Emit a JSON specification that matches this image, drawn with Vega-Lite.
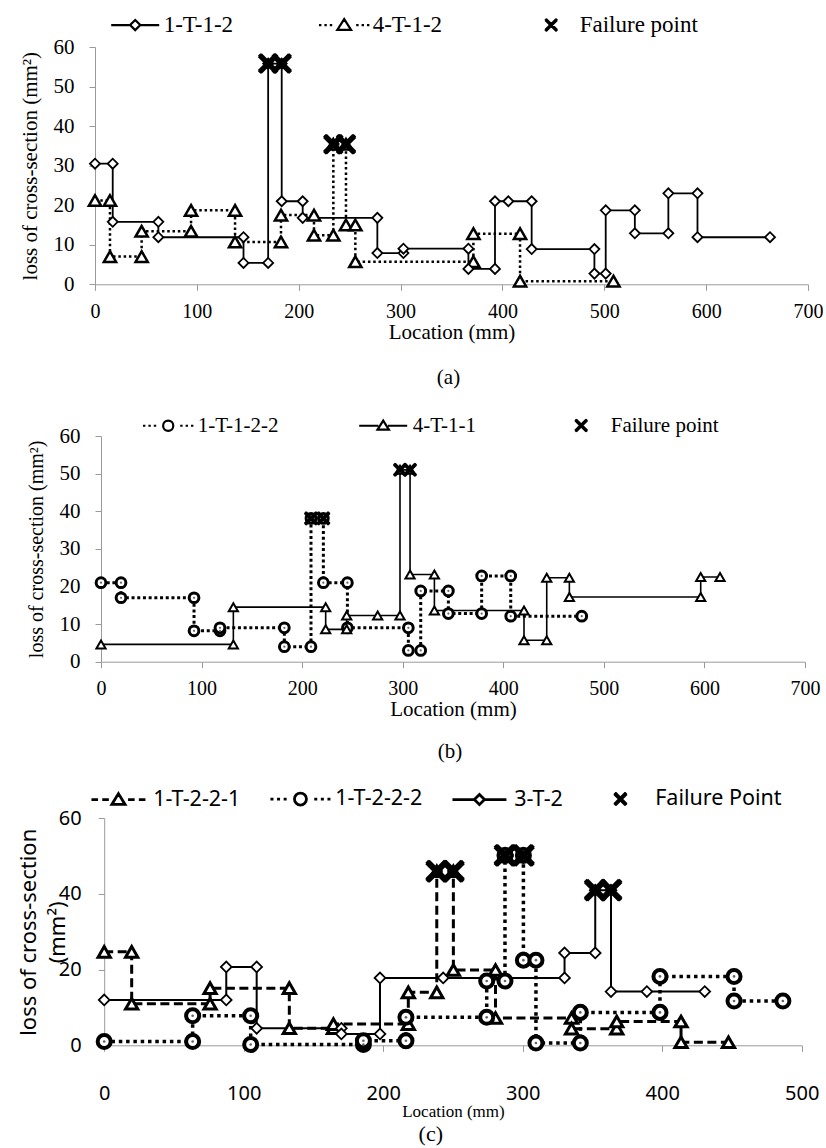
{
  "$schema": "https://vega.github.io/schema/vega-lite/v6.json",
  "usermeta": {"embedOptions": {"actions": false}},
  "padding": {"left": 17, "top": 13, "right": 0, "bottom": 0},
  "bounds": "flush",
  "spacing": 151,
  "config": {
    "view": {"stroke": null},
    "axis": {"grid": false, "domainColor": "#9a9a9a", "tickColor": "#9a9a9a", "labelColor": "black", "titleColor": "black", "titleFontWeight": "normal", "domainWidth": 1, "tickWidth": 1, "labelOverlap": false, "labelFlush": false},
    "legend": {"padding": 0, "titlePadding": 0},
    "title": {"color": "black", "fontWeight": "normal"}
  },
  "resolve": {"scale": {"x": "independent", "y": "independent", "shape": "independent"}, "legend": {"shape": "independent"}},
  "datasets": {
    "a": [
      {"s":"1-T-1-2","i":0,"x":0,"y":30.5},{"s":"1-T-1-2","i":1,"x":17.4,"y":30.5},{"s":"1-T-1-2","i":2,"x":17.4,"y":15.8},{"s":"1-T-1-2","i":3,"x":62.2,"y":15.8},{"s":"1-T-1-2","i":4,"x":62.2,"y":11.9},{"s":"1-T-1-2","i":5,"x":145.8,"y":11.9},{"s":"1-T-1-2","i":6,"x":145.8,"y":5.4},{"s":"1-T-1-2","i":7,"x":170,"y":5.4},{"s":"1-T-1-2","i":8,"x":170,"y":55.8},{"s":"1-T-1-2","i":9,"x":183.3,"y":55.8},{"s":"1-T-1-2","i":10,"x":183.3,"y":21},{"s":"1-T-1-2","i":11,"x":203.9,"y":21},{"s":"1-T-1-2","i":12,"x":203.9,"y":16.8},{"s":"1-T-1-2","i":13,"x":277.2,"y":16.8},{"s":"1-T-1-2","i":14,"x":277.2,"y":7.9},{"s":"1-T-1-2","i":15,"x":302.8,"y":7.9},{"s":"1-T-1-2","i":16,"x":302.8,"y":9},{"s":"1-T-1-2","i":17,"x":366.6,"y":9},{"s":"1-T-1-2","i":18,"x":366.6,"y":3.9},{"s":"1-T-1-2","i":19,"x":392.7,"y":3.9},{"s":"1-T-1-2","i":20,"x":392.7,"y":21},{"s":"1-T-1-2","i":21,"x":405.8,"y":21},{"s":"1-T-1-2","i":22,"x":428.7,"y":21},{"s":"1-T-1-2","i":23,"x":428.7,"y":8.9},{"s":"1-T-1-2","i":24,"x":490.3,"y":8.9},{"s":"1-T-1-2","i":25,"x":490.3,"y":2.7},{"s":"1-T-1-2","i":26,"x":501.4,"y":2.7},{"s":"1-T-1-2","i":27,"x":501.4,"y":18.7},{"s":"1-T-1-2","i":28,"x":530,"y":18.7},{"s":"1-T-1-2","i":29,"x":530,"y":12.9},{"s":"1-T-1-2","i":30,"x":562.9,"y":12.9},{"s":"1-T-1-2","i":31,"x":562.9,"y":23},{"s":"1-T-1-2","i":32,"x":591.5,"y":23},{"s":"1-T-1-2","i":33,"x":591.5,"y":11.9},{"s":"1-T-1-2","i":34,"x":662.7,"y":11.9},
      {"s":"4-T-1-2","i":0,"x":0,"y":21.2},{"s":"4-T-1-2","i":1,"x":14.7,"y":21.2},{"s":"4-T-1-2","i":2,"x":14.7,"y":7},{"s":"4-T-1-2","i":3,"x":45.8,"y":7},{"s":"4-T-1-2","i":4,"x":45.8,"y":13.4},{"s":"4-T-1-2","i":5,"x":94.3,"y":13.4},{"s":"4-T-1-2","i":6,"x":94.3,"y":18.7},{"s":"4-T-1-2","i":7,"x":137.5,"y":18.7},{"s":"4-T-1-2","i":8,"x":137.5,"y":10.7},{"s":"4-T-1-2","i":9,"x":182.6,"y":10.7},{"s":"4-T-1-2","i":10,"x":182.6,"y":17.5},{"s":"4-T-1-2","i":11,"x":215,"y":17.5},{"s":"4-T-1-2","i":12,"x":215,"y":12.4},{"s":"4-T-1-2","i":13,"x":234,"y":12.4},{"s":"4-T-1-2","i":14,"x":234,"y":35.4},{"s":"4-T-1-2","i":15,"x":246.4,"y":35.4},{"s":"4-T-1-2","i":16,"x":246.4,"y":15},{"s":"4-T-1-2","i":17,"x":255.6,"y":15},{"s":"4-T-1-2","i":18,"x":255.6,"y":5.7},{"s":"4-T-1-2","i":19,"x":371.5,"y":5.7},{"s":"4-T-1-2","i":20,"x":371.5,"y":12.8},{"s":"4-T-1-2","i":21,"x":417.3,"y":12.8},{"s":"4-T-1-2","i":22,"x":417.3,"y":0.8},{"s":"4-T-1-2","i":23,"x":509,"y":0.8},
      {"s":"Failure point","i":0,"x":170,"y":55.8},{"s":"Failure point","i":1,"x":183.3,"y":55.8},{"s":"Failure point","i":2,"x":234,"y":35.4},{"s":"Failure point","i":3,"x":246.4,"y":35.4}
    ],
    "b": [
      {"s":"1-T-1-2-2","i":0,"x":0,"y":21},{"s":"1-T-1-2-2","i":1,"x":19.9,"y":21},{"s":"1-T-1-2-2","i":2,"x":19.9,"y":17},{"s":"1-T-1-2-2","i":3,"x":92.5,"y":17},{"s":"1-T-1-2-2","i":4,"x":92.5,"y":8.2},{"s":"1-T-1-2-2","i":5,"x":118.3,"y":8.2},{"s":"1-T-1-2-2","i":6,"x":118.3,"y":9},{"s":"1-T-1-2-2","i":7,"x":182.3,"y":9},{"s":"1-T-1-2-2","i":8,"x":182.3,"y":4},{"s":"1-T-1-2-2","i":9,"x":208.8,"y":4},{"s":"1-T-1-2-2","i":10,"x":208.8,"y":38.1},{"s":"1-T-1-2-2","i":11,"x":221.1,"y":38.1},{"s":"1-T-1-2-2","i":12,"x":221.1,"y":21},{"s":"1-T-1-2-2","i":13,"x":245,"y":21},{"s":"1-T-1-2-2","i":14,"x":245,"y":9},{"s":"1-T-1-2-2","i":15,"x":305.6,"y":9},{"s":"1-T-1-2-2","i":16,"x":305.6,"y":3},{"s":"1-T-1-2-2","i":17,"x":317.9,"y":3},{"s":"1-T-1-2-2","i":18,"x":317.9,"y":18.8},{"s":"1-T-1-2-2","i":19,"x":345.4,"y":18.8},{"s":"1-T-1-2-2","i":20,"x":345.4,"y":12.8},{"s":"1-T-1-2-2","i":21,"x":378.5,"y":12.8},{"s":"1-T-1-2-2","i":22,"x":378.5,"y":22.8},{"s":"1-T-1-2-2","i":23,"x":407.4,"y":22.8},{"s":"1-T-1-2-2","i":24,"x":407.4,"y":12.1},{"s":"1-T-1-2-2","i":25,"x":478,"y":12.1},
      {"s":"4-T-1-1","i":0,"x":0,"y":4.6},{"s":"4-T-1-1","i":1,"x":131.6,"y":4.6},{"s":"4-T-1-1","i":2,"x":131.6,"y":14.5},{"s":"4-T-1-1","i":3,"x":223.4,"y":14.5},{"s":"4-T-1-1","i":4,"x":223.4,"y":8.6},{"s":"4-T-1-1","i":5,"x":244.3,"y":8.6},{"s":"4-T-1-1","i":6,"x":244.3,"y":12.3},{"s":"4-T-1-1","i":7,"x":275.1,"y":12.3},{"s":"4-T-1-1","i":8,"x":297.3,"y":12.3},{"s":"4-T-1-1","i":9,"x":297.3,"y":51},{"s":"4-T-1-1","i":10,"x":307.3,"y":51},{"s":"4-T-1-1","i":11,"x":307.3,"y":23.2},{"s":"4-T-1-1","i":12,"x":331.5,"y":23.2},{"s":"4-T-1-1","i":13,"x":331.5,"y":13.6},{"s":"4-T-1-1","i":14,"x":420.6,"y":13.6},{"s":"4-T-1-1","i":15,"x":420.6,"y":5.7},{"s":"4-T-1-1","i":16,"x":443.2,"y":5.7},{"s":"4-T-1-1","i":17,"x":443.2,"y":22.3},{"s":"4-T-1-1","i":18,"x":465.7,"y":22.3},{"s":"4-T-1-1","i":19,"x":465.7,"y":17.2},{"s":"4-T-1-1","i":20,"x":596.3,"y":17.2},{"s":"4-T-1-1","i":21,"x":596.3,"y":22.5},{"s":"4-T-1-1","i":22,"x":615.5,"y":22.5},
      {"s":"Failure point","i":0,"x":208.8,"y":38.1},{"s":"Failure point","i":1,"x":221.1,"y":38.1},{"s":"Failure point","i":2,"x":297.3,"y":51},{"s":"Failure point","i":3,"x":307.3,"y":51}
    ],
    "c": [
      {"s":"1-T-2-2-1","i":0,"x":0,"y":24.7},{"s":"1-T-2-2-1","i":1,"x":19.7,"y":24.7},{"s":"1-T-2-2-1","i":2,"x":19.7,"y":11},{"s":"1-T-2-2-1","i":3,"x":75.9,"y":11},{"s":"1-T-2-2-1","i":4,"x":75.9,"y":15.1},{"s":"1-T-2-2-1","i":5,"x":132.7,"y":15.1},{"s":"1-T-2-2-1","i":6,"x":132.7,"y":4.5},{"s":"1-T-2-2-1","i":7,"x":164.3,"y":4.5},{"s":"1-T-2-2-1","i":8,"x":164.3,"y":5.6},{"s":"1-T-2-2-1","i":9,"x":218,"y":5.6},{"s":"1-T-2-2-1","i":10,"x":218,"y":14},{"s":"1-T-2-2-1","i":11,"x":238.4,"y":14},{"s":"1-T-2-2-1","i":12,"x":238.4,"y":46},{"s":"1-T-2-2-1","i":13,"x":250.3,"y":46},{"s":"1-T-2-2-1","i":14,"x":250.3,"y":19.9},{"s":"1-T-2-2-1","i":15,"x":280.5,"y":19.9},{"s":"1-T-2-2-1","i":16,"x":280.5,"y":7.2},{"s":"1-T-2-2-1","i":17,"x":335,"y":7.2},{"s":"1-T-2-2-1","i":18,"x":335,"y":4.4},{"s":"1-T-2-2-1","i":19,"x":367.4,"y":4.4},{"s":"1-T-2-2-1","i":20,"x":367.4,"y":6.3},{"s":"1-T-2-2-1","i":21,"x":413.5,"y":6.3},{"s":"1-T-2-2-1","i":22,"x":413.5,"y":0.8},{"s":"1-T-2-2-1","i":23,"x":447.5,"y":0.8},
      {"s":"1-T-2-2-2","i":0,"x":0,"y":1},{"s":"1-T-2-2-2","i":1,"x":63.4,"y":1},{"s":"1-T-2-2-2","i":2,"x":63.4,"y":7.8},{"s":"1-T-2-2-2","i":3,"x":105,"y":7.8},{"s":"1-T-2-2-2","i":4,"x":105,"y":0.2},{"s":"1-T-2-2-2","i":5,"x":185.8,"y":0.2},{"s":"1-T-2-2-2","i":6,"x":185.8,"y":1.2},{"s":"1-T-2-2-2","i":7,"x":216.3,"y":1.2},{"s":"1-T-2-2-2","i":8,"x":216.3,"y":7.4},{"s":"1-T-2-2-2","i":9,"x":274.2,"y":7.4},{"s":"1-T-2-2-2","i":10,"x":274.2,"y":17},{"s":"1-T-2-2-2","i":11,"x":287.3,"y":17},{"s":"1-T-2-2-2","i":12,"x":287.3,"y":50.2},{"s":"1-T-2-2-2","i":13,"x":300.5,"y":50.2},{"s":"1-T-2-2-2","i":14,"x":300.5,"y":22.5},{"s":"1-T-2-2-2","i":15,"x":309.5,"y":22.5},{"s":"1-T-2-2-2","i":16,"x":309.5,"y":0.6},{"s":"1-T-2-2-2","i":17,"x":341.3,"y":0.6},{"s":"1-T-2-2-2","i":18,"x":341.3,"y":8.7},{"s":"1-T-2-2-2","i":19,"x":398.4,"y":8.7},{"s":"1-T-2-2-2","i":20,"x":398.4,"y":18.2},{"s":"1-T-2-2-2","i":21,"x":451.5,"y":18.2},{"s":"1-T-2-2-2","i":22,"x":451.5,"y":11.7},{"s":"1-T-2-2-2","i":23,"x":486.5,"y":11.7},
      {"s":"3-T-2","i":0,"x":0,"y":12},{"s":"3-T-2","i":1,"x":87.5,"y":12},{"s":"3-T-2","i":2,"x":87.5,"y":20.7},{"s":"3-T-2","i":3,"x":109.3,"y":20.7},{"s":"3-T-2","i":4,"x":109.3,"y":4.5},{"s":"3-T-2","i":5,"x":170,"y":4.5},{"s":"3-T-2","i":6,"x":170,"y":3},{"s":"3-T-2","i":7,"x":197.7,"y":3},{"s":"3-T-2","i":8,"x":197.7,"y":17.8},{"s":"3-T-2","i":9,"x":243,"y":17.8},{"s":"3-T-2","i":10,"x":330,"y":17.8},{"s":"3-T-2","i":11,"x":330,"y":24.4},{"s":"3-T-2","i":12,"x":352,"y":24.4},{"s":"3-T-2","i":13,"x":352,"y":41},{"s":"3-T-2","i":14,"x":363.3,"y":41},{"s":"3-T-2","i":15,"x":363.3,"y":14.2},{"s":"3-T-2","i":16,"x":389,"y":14.2},{"s":"3-T-2","i":17,"x":430.5,"y":14.2},
      {"s":"Failure Point","i":0,"x":238.4,"y":46},{"s":"Failure Point","i":1,"x":250.3,"y":46},{"s":"Failure Point","i":2,"x":287.3,"y":50.2},{"s":"Failure Point","i":3,"x":300.5,"y":50.2},{"s":"Failure Point","i":4,"x":352,"y":41},{"s":"Failure Point","i":5,"x":363.3,"y":41}
    ]
  },
  "vconcat": [
    {
      "width": 713, "height": 237.3,
      "data": {"name": "a"},
      "title": {"text": "(a)", "orient": "bottom", "font": "Liberation Serif", "fontSize": 21, "offset": 25, "dx": -3},
      "encoding": {
        "x": {"field": "x", "type": "quantitative", "scale": {"domain": [0, 700], "nice": false}, "axis": {"values": [0,100,200,300,400,500,600,700], "tickCount": 8, "labelOverlap": false, "labelFlush": false, "labelFont": "Liberation Serif", "labelFontSize": 20, "labelPadding": 11, "tickSize": 6, "title": "Location (mm)", "titleFont": "Liberation Serif", "titleFontSize": 21, "titlePadding": 0}},
        "y": {"field": "y", "type": "quantitative", "scale": {"domain": [0, 60], "nice": false}, "axis": {"values": [0,10,20,30,40,50,60], "tickCount": 7, "labelOverlap": false, "labelFlush": false, "labelSeparation": 0, "labelFont": "Liberation Serif", "labelFontSize": 21, "labelPadding": 15, "tickSize": 6, "title": "loss of cross-section (mm²)", "titleFont": "Liberation Serif", "titleFontSize": 21, "titleX": -75.3, "titleBaseline": "top"}}
      },
      "layer": [
        {"transform": [{"filter": "datum.s === '4-T-1-2'"}], "mark": {"type": "line", "stroke": "black", "strokeWidth": 2.5, "strokeDash": [2.5, 2.8]}, "encoding": {"order": {"field": "i", "type": "quantitative"}}},
        {"transform": [{"filter": "datum.s === '1-T-1-2'"}], "mark": {"type": "line", "stroke": "black", "strokeWidth": 1.8}, "encoding": {"order": {"field": "i", "type": "quantitative"}}},
        {"transform": [{"filter": "datum.s === '4-T-1-2'"}], "mark": {"type": "point", "shape": "triangle-up", "size": 150, "fill": "white", "stroke": "black", "strokeWidth": 2.5, "opacity": 1}},
        {"transform": [{"filter": "datum.s === '1-T-1-2'"}], "mark": {"type": "point", "shape": "diamond", "size": 100, "fill": "white", "stroke": "black", "strokeWidth": 1.8, "opacity": 1}},
        {
          "transform": [{"filter": "datum.s === 'Failure point'"}],
          "mark": {"type": "point", "color": "black", "size": 324, "strokeWidth": 3.5, "opacity": 1},
          "encoding": {
            "shape": {"field": "s", "type": "nominal",
              "scale": {"domain": ["1-T-1-2", "4-T-1-2", "Failure point"], "range": [
                "M-4,0L-0.85,0M0.85,0L4,0M0,-0.85L0.85,0L0,0.85L-0.85,0Z",
                "M-4.2,0L-3.8,0M-3.3,0L-2.9,0M-2.4,0L-2,0M2,0L2.4,0M2.9,0L3.3,0M3.8,0L4.2,0M0,-1L1.15,0.8L-1.15,0.8Z",
                "M-4,0M4,0M-1,-1L1,1M1,-1L-1,1M-0.85,-1L1,0.85M-1,-0.85L0.85,1M0.85,-1L-1,0.85M1,-0.85L-0.85,1"]},
              "legend": {"title": null, "orient": "none", "legendX": 28.7, "legendY": -33.7, "direction": "horizontal", "columns": 3, "columnPadding": 80, "symbolSize": 144, "symbolStrokeWidth": 2.2, "symbolStrokeColor": "black", "symbolFillColor": "white", "symbolOpacity": 1, "labelFont": "Liberation Serif", "labelFontSize": 23, "labelColor": "black", "labelOffset": 17, "labelLimit": 300}
            }
          }
        }
      ]
    },
    {
      "width": 710, "height": 225.7,
      "data": {"name": "b"},
      "title": {"text": "(b)", "orient": "bottom", "font": "Liberation Serif", "fontSize": 21, "offset": 21, "dx": 0},
      "encoding": {
        "x": {"field": "x", "type": "quantitative", "scale": {"domain": [0, 700], "range": [6, 710], "nice": false}, "axis": {"values": [0,100,200,300,400,500,600,700], "tickCount": 8, "labelOverlap": false, "labelFlush": false, "labelFont": "Liberation Serif", "labelFontSize": 20, "labelPadding": 11, "tickSize": 6, "title": "Location (mm)", "titleFont": "Liberation Serif", "titleFontSize": 21, "titlePadding": 0}},
        "y": {"field": "y", "type": "quantitative", "scale": {"domain": [0, 60], "nice": false}, "axis": {"offset": -6, "values": [0,10,20,30,40,50,60], "tickCount": 7, "labelOverlap": false, "labelFlush": false, "labelSeparation": 0, "labelFont": "Liberation Serif", "labelFontSize": 21, "labelPadding": 15, "tickSize": 6, "title": "loss of cross-section (mm²)", "titleFont": "Liberation Serif", "titleFontSize": 20, "titleX": -74.3, "titleBaseline": "top"}}
      },
      "layer": [
        {"transform": [{"filter": "datum.s === '1-T-1-2-2'"}], "mark": {"type": "line", "stroke": "black", "strokeWidth": 3, "strokeDash": [3, 2.7]}, "encoding": {"order": {"field": "i", "type": "quantitative"}}},
        {"transform": [{"filter": "datum.s === '4-T-1-1'"}], "mark": {"type": "line", "stroke": "black", "strokeWidth": 1.6}, "encoding": {"order": {"field": "i", "type": "quantitative"}}},
        {"transform": [{"filter": "datum.s === '1-T-1-2-2'"}], "mark": {"type": "point", "shape": "circle", "size": 95, "fill": "white", "stroke": "black", "strokeWidth": 3, "opacity": 1}},
        {"transform": [{"filter": "datum.s === '1-T-1-2-2'"}], "mark": {"type": "point", "shape": "circle", "size": 5, "fill": "#666", "strokeWidth": 0, "opacity": 1, "filled": true}},
        {"transform": [{"filter": "datum.s === '4-T-1-1'"}], "mark": {"type": "point", "shape": "triangle-up", "size": 85, "fill": "white", "stroke": "black", "strokeWidth": 2, "opacity": 1}},
        {
          "transform": [{"filter": "datum.s === 'Failure point'"}],
          "mark": {"type": "point", "color": "black", "size": 150, "strokeWidth": 2.5, "opacity": 1},
          "encoding": {
            "shape": {"field": "s", "type": "nominal",
              "scale": {"domain": ["1-T-1-2-2", "4-T-1-1", "Failure point"], "range": [
                "M-4.2,0L-3.8,0M-3.3,0L-2.9,0M-2.4,0L-2,0M2,0L2.4,0M2.9,0L3.3,0M3.8,0L4.2,0M-0.85,0A0.85,0.85 0 1,0 0.85,0A0.85,0.85 0 1,0 -0.85,0Z",
                "M-4,0L-0.8,0M0.8,0L4,0M0,-0.85L0.95,0.65L-0.95,0.65Z",
                "M-4,0M4,0M-1,-1L1,1M1,-1L-1,1M-0.85,-1L1,0.85M-1,-0.85L0.85,1M0.85,-1L-1,0.85M1,-0.85L-0.85,1"]},
              "legend": {"title": null, "orient": "none", "legendX": 62.7, "legendY": -21, "direction": "horizontal", "columns": 3, "columnPadding": 76, "symbolSize": 144, "symbolStrokeWidth": 2.2, "symbolStrokeColor": "black", "symbolFillColor": "white", "symbolOpacity": 1, "labelFont": "Liberation Serif", "labelFontSize": 21, "labelColor": "black", "labelOffset": 19, "labelLimit": 300}
            }
          }
        }
      ]
    },
    {
      "width": 707, "height": 232.3,
      "data": {"name": "c"},
      "title": {"text": "(c)", "orient": "bottom", "font": "Liberation Serif", "fontSize": 22, "offset": 5, "dx": -17.7},
      "encoding": {
        "x": {"field": "x", "type": "quantitative", "scale": {"domain": [0, 500], "range": [9.2, 706.7], "nice": false}, "axis": {"values": [0,100,200,300,400,500], "tickCount": 6, "labelOverlap": false, "labelFlush": false, "labelFont": "Noto Sans", "labelFontSize": 20, "labelPadding": 32, "tickSize": 6, "title": "Location (mm)", "titleFont": "Liberation Serif", "titleFontSize": 17, "titlePadding": 0}},
        "y": {"field": "y", "type": "quantitative", "scale": {"domain": [0, 60], "range": [232.3, 5.3], "nice": false}, "axis": {"offset": -9.2, "values": [0,20,40,60], "tickCount": 4, "labelOverlap": false, "labelFlush": false, "labelFont": "Noto Sans", "labelFontSize": 20, "labelPadding": 17, "tickSize": 6, "title": ["loss of cross-section", "(mm²)"], "titleFont": "Noto Sans", "titleFontSize": 22, "titleLineHeight": 29, "titleX": -85.5, "titleBaseline": "top"}}
      },
      "layer": [
        {"transform": [{"filter": "datum.s === '1-T-2-2-1'"}], "mark": {"type": "line", "stroke": "black", "strokeWidth": 3, "strokeDash": [9, 4.5]}, "encoding": {"order": {"field": "i", "type": "quantitative"}}},
        {"transform": [{"filter": "datum.s === '1-T-2-2-2'"}], "mark": {"type": "line", "stroke": "black", "strokeWidth": 3.5, "strokeDash": [3.5, 3.8]}, "encoding": {"order": {"field": "i", "type": "quantitative"}}},
        {"transform": [{"filter": "datum.s === '3-T-2'"}], "mark": {"type": "line", "stroke": "black", "strokeWidth": 2}, "encoding": {"order": {"field": "i", "type": "quantitative"}}},
        {"transform": [{"filter": "datum.s === '1-T-2-2-1'"}], "mark": {"type": "point", "shape": "triangle-up", "size": 150, "fill": "white", "stroke": "black", "strokeWidth": 3, "opacity": 1}},
        {"transform": [{"filter": "datum.s === '1-T-2-2-2'"}], "mark": {"type": "point", "shape": "circle", "size": 170, "fill": "white", "stroke": "black", "strokeWidth": 4, "opacity": 1}},
        {"transform": [{"filter": "datum.s === '1-T-2-2-2'"}], "mark": {"type": "point", "shape": "circle", "size": 7, "fill": "#666", "strokeWidth": 0, "opacity": 1, "filled": true}},
        {"transform": [{"filter": "datum.s === '3-T-2'"}], "mark": {"type": "point", "shape": "diamond", "size": 115, "fill": "white", "stroke": "black", "strokeWidth": 1.8, "opacity": 1}},
        {
          "transform": [{"filter": "datum.s === 'Failure Point'"}],
          "mark": {"type": "point", "color": "black", "size": 400, "strokeWidth": 4, "opacity": 1},
          "encoding": {
            "shape": {"field": "s", "type": "nominal",
              "scale": {"domain": ["1-T-2-2-1", "1-T-2-2-2", "3-T-2", "Failure Point"], "range": [
                "M-4.5,0L-3.4,0M-2.7,0L-1.6,0M1.6,0L2.7,0M3.4,0L4.5,0M0,-1L1.1,0.8L-1.1,0.8Z",
                "M-5,0L-4.5,0M-3.9,0L-3.4,0M-2.8,0L-2.3,0M2.3,0L2.8,0M3.4,0L3.9,0M4.5,0L5,0M-1,0A1,1 0 1,0 1,0A1,1 0 1,0 -1,0Z",
                "M-4.5,0L-0.85,0M0.85,0L4.5,0M0,-0.85L0.85,0L0,0.85L-0.85,0Z",
                "M-4.5,0M4.5,0M-1,-1L1,1M1,-1L-1,1M-0.85,-1L1,0.85M-1,-0.85L0.85,1M0.85,-1L-1,0.85M1,-0.85L-0.85,1"]},
              "legend": {"title": null, "orient": "none", "legendX": 12.7, "legendY": -25, "direction": "horizontal", "columns": 4, "columnPadding": 24, "symbolSize": 144, "symbolStrokeWidth": 2.8, "symbolStrokeColor": "black", "symbolFillColor": "white", "symbolOpacity": 1, "labelFont": "Noto Sans", "labelFontSize": 21.5, "labelColor": "black", "labelOffset": 24, "labelLimit": 300}
            }
          }
        }
      ]
    }
  ]
}
